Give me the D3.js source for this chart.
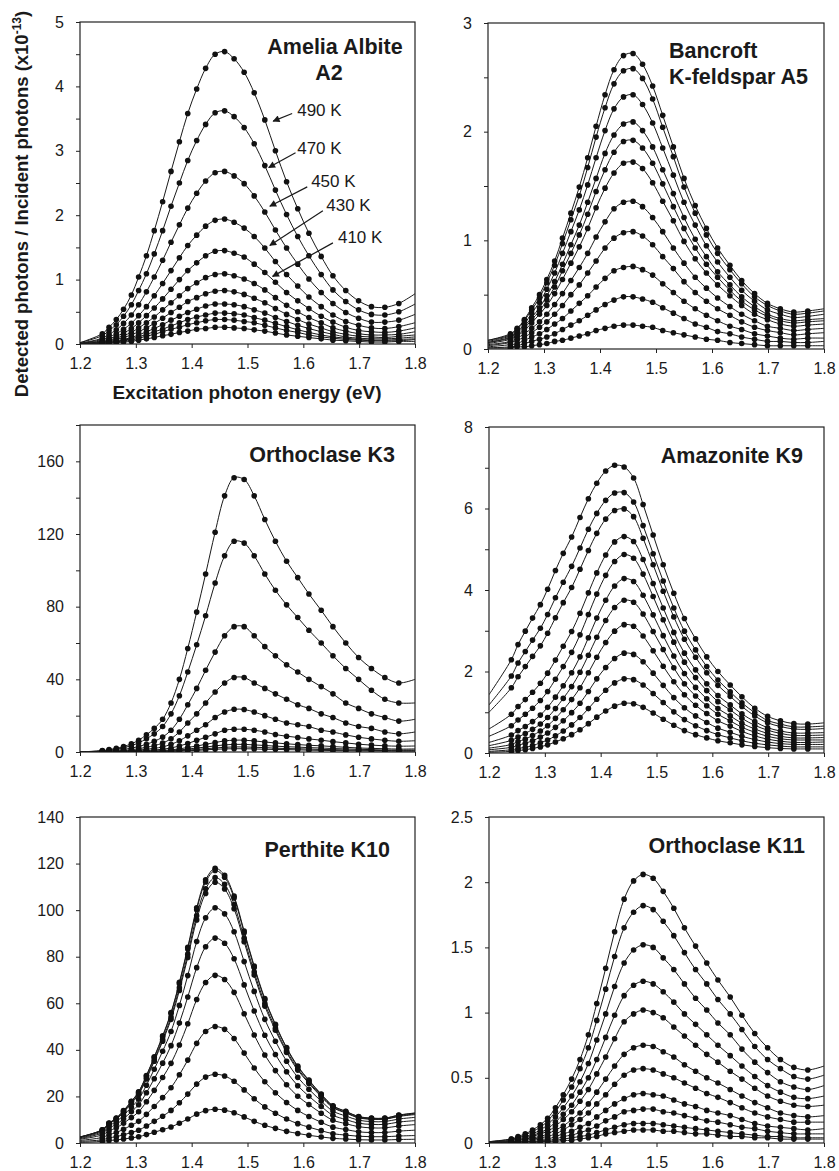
<!DOCTYPE html>
<html>
<head>
<meta charset="utf-8">
<title>Excitation spectra of feldspars</title>
<script src="https://cdn.jsdelivr.net/npm/d3@7"></script>
<style>
  body { margin: 0; background: #fff; }
  text { font-family: "Liberation Sans", Arial, sans-serif; fill: #1a1a1a; }
</style>
</head>
<body>
<svg id="chart" width="839" height="1171"></svg>
<script>
// measured excitation energies (eV), one per dot
var energies = [1.240, 1.252, 1.265, 1.278, 1.292, 1.305, 1.319, 1.333, 1.348, 1.363, 1.378, 1.393, 1.409, 1.425, 1.442, 1.459, 1.476, 1.494, 1.512, 1.531, 1.550, 1.570, 1.590, 1.610, 1.632, 1.653, 1.676, 1.699, 1.722, 1.746, 1.771];
// each curve: value at 1.2, then one value per energy, then value at 1.8

var ameliaA2 = [
  [0.02, 0.16, 0.26, 0.38, 0.54, 0.76, 1.04, 1.37, 1.76, 2.21, 2.68, 3.14, 3.58, 3.96, 4.28, 4.50, 4.54, 4.43, 4.22, 3.90, 3.48, 3.00, 2.52, 2.10, 1.72, 1.36, 1.06, 0.83, 0.67, 0.58, 0.57, 0.63, 0.78],
  [0.02, 0.13, 0.21, 0.30, 0.43, 0.61, 0.83, 1.09, 1.40, 1.76, 2.14, 2.50, 2.85, 3.16, 3.41, 3.59, 3.62, 3.53, 3.36, 3.11, 2.77, 2.39, 2.01, 1.67, 1.37, 1.08, 0.84, 0.66, 0.53, 0.46, 0.45, 0.50, 0.62],
  [0.01, 0.09, 0.15, 0.22, 0.32, 0.45, 0.61, 0.81, 1.04, 1.30, 1.58, 1.85, 2.11, 2.34, 2.53, 2.66, 2.68, 2.61, 2.49, 2.30, 2.05, 1.77, 1.49, 1.24, 1.01, 0.80, 0.63, 0.49, 0.40, 0.34, 0.34, 0.37, 0.46],
  [0.01, 0.07, 0.11, 0.16, 0.23, 0.32, 0.44, 0.58, 0.75, 0.94, 1.14, 1.34, 1.53, 1.69, 1.83, 1.92, 1.94, 1.89, 1.80, 1.67, 1.49, 1.28, 1.08, 0.90, 0.73, 0.58, 0.45, 0.35, 0.29, 0.25, 0.24, 0.27, 0.33],
  [0.01, 0.05, 0.08, 0.12, 0.17, 0.24, 0.33, 0.44, 0.56, 0.70, 0.85, 1.00, 1.14, 1.26, 1.37, 1.44, 1.45, 1.41, 1.35, 1.24, 1.11, 0.96, 0.80, 0.67, 0.55, 0.43, 0.34, 0.26, 0.21, 0.19, 0.18, 0.20, 0.25],
  [0.00, 0.04, 0.06, 0.09, 0.13, 0.18, 0.25, 0.33, 0.42, 0.53, 0.64, 0.75, 0.86, 0.95, 1.03, 1.08, 1.09, 1.06, 1.01, 0.94, 0.84, 0.72, 0.60, 0.50, 0.41, 0.33, 0.25, 0.20, 0.16, 0.14, 0.14, 0.15, 0.19],
  [0.00, 0.03, 0.05, 0.07, 0.10, 0.14, 0.19, 0.25, 0.32, 0.40, 0.49, 0.57, 0.66, 0.72, 0.78, 0.82, 0.83, 0.81, 0.77, 0.71, 0.64, 0.55, 0.46, 0.38, 0.31, 0.25, 0.19, 0.15, 0.12, 0.11, 0.10, 0.12, 0.14],
  [0.00, 0.02, 0.04, 0.05, 0.07, 0.10, 0.14, 0.19, 0.24, 0.30, 0.37, 0.43, 0.49, 0.54, 0.59, 0.62, 0.62, 0.61, 0.58, 0.53, 0.48, 0.41, 0.35, 0.29, 0.24, 0.19, 0.15, 0.11, 0.09, 0.08, 0.08, 0.09, 0.11],
  [0.00, 0.02, 0.03, 0.04, 0.06, 0.08, 0.11, 0.15, 0.19, 0.23, 0.28, 0.33, 0.38, 0.42, 0.45, 0.48, 0.48, 0.47, 0.45, 0.41, 0.37, 0.32, 0.27, 0.22, 0.18, 0.14, 0.11, 0.09, 0.07, 0.06, 0.06, 0.07, 0.08],
  [0.00, 0.01, 0.02, 0.03, 0.05, 0.06, 0.09, 0.12, 0.15, 0.19, 0.23, 0.26, 0.30, 0.33, 0.36, 0.38, 0.38, 0.37, 0.35, 0.33, 0.29, 0.25, 0.21, 0.18, 0.14, 0.11, 0.09, 0.07, 0.06, 0.05, 0.05, 0.05, 0.07],
  [0.00, 0.01, 0.01, 0.02, 0.03, 0.04, 0.06, 0.08, 0.10, 0.13, 0.15, 0.18, 0.20, 0.23, 0.24, 0.26, 0.26, 0.25, 0.24, 0.22, 0.20, 0.17, 0.14, 0.12, 0.10, 0.08, 0.06, 0.05, 0.04, 0.03, 0.03, 0.04, 0.04]
];

var bancroftA5 = [
  [0.08, 0.14, 0.19, 0.27, 0.38, 0.50, 0.64, 0.81, 1.02, 1.25, 1.49, 1.76, 2.05, 2.34, 2.57, 2.70, 2.72, 2.62, 2.42, 2.15, 1.86, 1.57, 1.32, 1.11, 0.93, 0.77, 0.63, 0.51, 0.42, 0.37, 0.34, 0.35, 0.37],
  [0.08, 0.13, 0.18, 0.26, 0.36, 0.47, 0.61, 0.77, 0.97, 1.19, 1.41, 1.67, 1.95, 2.22, 2.44, 2.56, 2.58, 2.49, 2.30, 2.04, 1.77, 1.49, 1.25, 1.05, 0.88, 0.73, 0.60, 0.48, 0.40, 0.35, 0.32, 0.33, 0.35],
  [0.07, 0.12, 0.16, 0.23, 0.33, 0.43, 0.55, 0.70, 0.88, 1.08, 1.28, 1.51, 1.76, 2.01, 2.21, 2.32, 2.34, 2.25, 2.08, 1.85, 1.60, 1.35, 1.14, 0.95, 0.80, 0.66, 0.54, 0.44, 0.36, 0.32, 0.29, 0.30, 0.32],
  [0.06, 0.11, 0.15, 0.21, 0.29, 0.38, 0.49, 0.62, 0.78, 0.96, 1.14, 1.35, 1.57, 1.80, 1.97, 2.07, 2.09, 2.01, 1.86, 1.65, 1.43, 1.21, 1.01, 0.85, 0.71, 0.59, 0.48, 0.39, 0.32, 0.28, 0.26, 0.27, 0.28],
  [0.06, 0.10, 0.13, 0.19, 0.27, 0.35, 0.45, 0.57, 0.72, 0.88, 1.05, 1.24, 1.45, 1.65, 1.81, 1.91, 1.92, 1.85, 1.71, 1.52, 1.31, 1.11, 0.93, 0.78, 0.66, 0.54, 0.44, 0.36, 0.30, 0.26, 0.24, 0.25, 0.26],
  [0.05, 0.09, 0.12, 0.17, 0.24, 0.32, 0.40, 0.51, 0.64, 0.79, 0.94, 1.11, 1.30, 1.48, 1.62, 1.71, 1.72, 1.66, 1.53, 1.36, 1.18, 0.99, 0.83, 0.70, 0.59, 0.49, 0.40, 0.32, 0.27, 0.23, 0.21, 0.22, 0.23],
  [0.04, 0.07, 0.10, 0.14, 0.19, 0.25, 0.32, 0.41, 0.51, 0.63, 0.75, 0.88, 1.03, 1.17, 1.29, 1.35, 1.36, 1.31, 1.21, 1.08, 0.93, 0.79, 0.66, 0.56, 0.47, 0.39, 0.32, 0.26, 0.21, 0.19, 0.17, 0.18, 0.19],
  [0.03, 0.06, 0.08, 0.11, 0.15, 0.20, 0.25, 0.32, 0.40, 0.50, 0.59, 0.70, 0.81, 0.93, 1.02, 1.07, 1.08, 1.04, 0.96, 0.85, 0.74, 0.62, 0.52, 0.44, 0.37, 0.31, 0.25, 0.20, 0.17, 0.15, 0.13, 0.14, 0.15],
  [0.02, 0.04, 0.05, 0.08, 0.11, 0.14, 0.18, 0.23, 0.28, 0.35, 0.42, 0.49, 0.57, 0.65, 0.72, 0.75, 0.76, 0.73, 0.68, 0.60, 0.52, 0.44, 0.37, 0.31, 0.26, 0.21, 0.18, 0.14, 0.12, 0.10, 0.09, 0.10, 0.10],
  [0.01, 0.02, 0.03, 0.05, 0.07, 0.09, 0.11, 0.14, 0.18, 0.22, 0.26, 0.31, 0.36, 0.41, 0.45, 0.48, 0.48, 0.46, 0.43, 0.38, 0.33, 0.28, 0.23, 0.20, 0.16, 0.14, 0.11, 0.09, 0.07, 0.07, 0.06, 0.06, 0.07],
  [0.01, 0.01, 0.02, 0.02, 0.03, 0.04, 0.05, 0.07, 0.08, 0.10, 0.12, 0.14, 0.17, 0.19, 0.21, 0.22, 0.22, 0.21, 0.20, 0.17, 0.15, 0.13, 0.11, 0.09, 0.08, 0.06, 0.05, 0.04, 0.03, 0.03, 0.03, 0.03, 0.03]
];

var orthoclaseK3 = [
  [0, 0.8, 1.3, 2, 3, 4.5, 6.5, 9.5, 13, 18, 27, 40, 57, 77, 98, 121, 141, 151, 150, 141, 128, 116, 105, 96, 87, 78, 69, 60, 52, 46, 41, 38, 40],
  [0, 0.6, 1.0, 1.5, 2.3, 3.5, 5.0, 7.3, 10, 14, 21, 31, 44, 59, 75, 93, 108, 116, 115, 108, 98, 89, 81, 74, 67, 60, 53, 46, 40, 34, 29, 27, 27],
  [0, 0.4, 0.6, 0.9, 1.4, 2.1, 3.0, 4.3, 5.9, 8.2, 12, 18, 26, 35, 45, 55, 64, 69, 69, 64, 58, 53, 48, 44, 40, 36, 32, 27, 24, 21, 19, 17, 18],
  [0, 0.2, 0.4, 0.5, 0.8, 1.2, 1.8, 2.6, 3.5, 4.9, 7.3, 11, 16, 21, 27, 33, 38, 41, 41, 38, 35, 32, 29, 26, 24, 21, 19, 16, 14, 13, 11, 10, 11],
  [0, 0.1, 0.2, 0.3, 0.5, 0.7, 1.0, 1.5, 2.0, 2.8, 4.2, 6.2, 8.9, 12, 15, 19, 22, 23.5, 23.4, 22, 20, 18, 16, 15, 14, 12, 11, 9.4, 8.1, 7.2, 6.4, 5.9, 6.2],
  [0, 0.1, 0.1, 0.2, 0.2, 0.4, 0.5, 0.8, 1.1, 1.5, 2.2, 3.3, 4.7, 6.4, 8.1, 10, 12, 12.5, 12.5, 12, 11, 9.6, 8.7, 8.0, 7.2, 6.5, 5.7, 5.0, 4.3, 3.8, 3.4, 3.2, 3.3],
  [0, 0, 0.1, 0.1, 0.1, 0.2, 0.3, 0.4, 0.6, 0.8, 1.2, 1.7, 2.5, 3.3, 4.2, 5.2, 6.1, 6.5, 6.5, 6.1, 5.5, 5.0, 4.5, 4.1, 3.7, 3.4, 3.0, 2.6, 2.2, 2.0, 1.8, 1.6, 1.7],
  [0, 0, 0, 0.1, 0.1, 0.1, 0.2, 0.3, 0.4, 0.5, 0.8, 1.1, 1.6, 2.2, 2.7, 3.4, 3.9, 4.2, 4.2, 3.9, 3.6, 3.2, 2.9, 2.7, 2.4, 2.2, 1.9, 1.7, 1.5, 1.3, 1.1, 1.1, 1.1],
  [0, 0, 0, 0, 0.1, 0.1, 0.1, 0.2, 0.2, 0.3, 0.5, 0.7, 1.1, 1.4, 1.8, 2.2, 2.6, 2.8, 2.8, 2.6, 2.4, 2.1, 1.9, 1.8, 1.6, 1.4, 1.3, 1.1, 1.0, 0.9, 0.8, 0.7, 0.7],
  [0, 0, 0, 0, 0, 0.1, 0.1, 0.1, 0.2, 0.2, 0.3, 0.5, 0.7, 0.9, 1.2, 1.5, 1.7, 1.8, 1.8, 1.7, 1.5, 1.4, 1.3, 1.2, 1.0, 0.9, 0.8, 0.7, 0.6, 0.6, 0.5, 0.5, 0.5]
];

var amazoniteK9 = [
  [1.43, 2.29, 2.66, 2.99, 3.31, 3.64, 4.02, 4.48, 4.90, 5.30, 5.78, 6.24, 6.62, 6.92, 7.06, 7.02, 6.75, 6.10, 5.35, 4.62, 3.92, 3.30, 2.80, 2.36, 2.00, 1.67, 1.38, 1.10, 0.90, 0.79, 0.72, 0.71, 0.74],
  [1.18, 1.89, 2.21, 2.49, 2.77, 3.06, 3.40, 3.81, 4.19, 4.58, 5.03, 5.49, 5.88, 6.20, 6.38, 6.39, 6.16, 5.58, 4.89, 4.22, 3.56, 2.99, 2.53, 2.12, 1.79, 1.50, 1.23, 0.99, 0.80, 0.71, 0.64, 0.64, 0.66],
  [1.00, 1.60, 1.87, 2.12, 2.37, 2.63, 2.94, 3.32, 3.69, 4.06, 4.51, 4.97, 5.39, 5.74, 5.95, 5.99, 5.80, 5.27, 4.62, 3.97, 3.34, 2.79, 2.35, 1.97, 1.66, 1.39, 1.14, 0.91, 0.74, 0.65, 0.59, 0.58, 0.60],
  [0.59, 0.95, 1.14, 1.31, 1.49, 1.71, 1.96, 2.28, 2.62, 2.98, 3.43, 3.93, 4.42, 4.86, 5.18, 5.31, 5.19, 4.75, 4.16, 3.56, 2.96, 2.45, 2.04, 1.70, 1.41, 1.18, 0.96, 0.77, 0.62, 0.54, 0.49, 0.49, 0.50],
  [0.41, 0.67, 0.81, 0.95, 1.10, 1.29, 1.51, 1.81, 2.12, 2.47, 2.90, 3.40, 3.90, 4.36, 4.70, 4.87, 4.78, 4.39, 3.84, 3.27, 2.72, 2.23, 1.85, 1.53, 1.26, 1.06, 0.85, 0.68, 0.56, 0.48, 0.43, 0.43, 0.44],
  [0.26, 0.44, 0.55, 0.65, 0.77, 0.93, 1.12, 1.37, 1.65, 1.97, 2.36, 2.83, 3.31, 3.75, 4.10, 4.28, 4.21, 3.87, 3.39, 2.88, 2.38, 1.95, 1.61, 1.33, 1.09, 0.91, 0.73, 0.59, 0.48, 0.41, 0.37, 0.37, 0.38],
  [0.18, 0.31, 0.39, 0.48, 0.58, 0.71, 0.87, 1.09, 1.34, 1.63, 1.98, 2.40, 2.84, 3.25, 3.57, 3.75, 3.70, 3.41, 2.98, 2.54, 2.09, 1.70, 1.40, 1.16, 0.95, 0.79, 0.63, 0.51, 0.41, 0.35, 0.32, 0.32, 0.32],
  [0.12, 0.21, 0.28, 0.34, 0.43, 0.54, 0.67, 0.85, 1.06, 1.31, 1.60, 1.97, 2.35, 2.71, 2.99, 3.15, 3.11, 2.87, 2.51, 2.13, 1.75, 1.43, 1.17, 0.97, 0.79, 0.66, 0.53, 0.42, 0.34, 0.29, 0.26, 0.26, 0.27],
  [0.08, 0.14, 0.19, 0.24, 0.30, 0.39, 0.49, 0.63, 0.79, 0.99, 1.22, 1.51, 1.82, 2.10, 2.32, 2.45, 2.42, 2.24, 1.96, 1.66, 1.36, 1.11, 0.91, 0.75, 0.61, 0.51, 0.41, 0.33, 0.27, 0.23, 0.21, 0.21, 0.21],
  [0.04, 0.08, 0.11, 0.14, 0.18, 0.25, 0.32, 0.42, 0.54, 0.69, 0.87, 1.09, 1.32, 1.54, 1.72, 1.82, 1.80, 1.67, 1.46, 1.24, 1.01, 0.82, 0.67, 0.55, 0.45, 0.37, 0.30, 0.24, 0.20, 0.17, 0.15, 0.15, 0.15],
  [0.02, 0.04, 0.06, 0.08, 0.11, 0.15, 0.20, 0.27, 0.35, 0.45, 0.57, 0.72, 0.88, 1.03, 1.15, 1.22, 1.21, 1.12, 0.98, 0.83, 0.68, 0.55, 0.45, 0.37, 0.30, 0.25, 0.20, 0.16, 0.13, 0.11, 0.10, 0.10, 0.10]
];

var perthiteK10 = [
  [2.6, 5.7, 8.6, 10.7, 13.9, 17.9, 22, 29, 37, 46, 56, 69, 84, 101, 113, 118, 115, 106, 91, 76, 62, 51, 41, 33, 27, 21, 16, 13.6, 11.4, 10.7, 10.7, 12, 12.9],
  [2.6, 5.7, 8.5, 10.6, 13.8, 17.8, 21.8, 28.8, 36.7, 45.6, 55.6, 68.4, 83.3, 100.2, 112.1, 117, 114.1, 105.2, 90.3, 75.4, 61.5, 50.6, 40.7, 32.7, 26.8, 20.8, 15.9, 13.5, 11.3, 10.6, 10.6, 11.9, 12.8],
  [2.5, 5.5, 8.3, 10.3, 13.4, 17.3, 21.3, 28.0, 35.7, 44.4, 54.1, 66.7, 81.1, 97.6, 109.2, 114, 111.1, 102.4, 87.9, 73.4, 59.9, 49.3, 39.6, 31.9, 26.1, 20.3, 15.5, 13.1, 11.0, 10.3, 10.3, 11.6, 12.5],
  [2.5, 5.4, 8.2, 10.2, 13.2, 17.0, 20.9, 27.5, 35.1, 43.7, 53.1, 65.5, 79.7, 95.8, 107.2, 112, 109.1, 100.6, 86.4, 72.1, 58.8, 48.4, 38.9, 31.3, 25.6, 19.9, 15.2, 12.9, 10.8, 10.2, 10.2, 11.4, 12.2],
  [2.2, 4.9, 7.4, 9.2, 11.9, 15.3, 18.8, 24.8, 31.7, 39.4, 47.9, 59.1, 71.9, 86.5, 96.7, 101, 98.4, 90.7, 77.9, 65.1, 53.1, 43.7, 35.1, 28.2, 23.1, 18.0, 13.7, 11.6, 9.8, 9.2, 9.2, 10.3, 11.0],
  [1.9, 4.3, 6.4, 8.0, 10.4, 13.4, 16.4, 21.6, 27.6, 34.3, 41.8, 51.5, 62.7, 75.3, 84.3, 88, 85.8, 79.1, 67.9, 56.7, 46.3, 38.0, 30.6, 24.6, 20.1, 15.7, 11.9, 10.1, 8.5, 8.0, 8.0, 9.0, 9.6],
  [1.6, 3.5, 5.2, 6.5, 8.5, 10.9, 13.4, 17.7, 22.6, 28.1, 34.2, 42.1, 51.2, 61.6, 68.9, 72, 70.2, 64.7, 55.5, 46.4, 37.8, 31.1, 25.0, 20.1, 16.5, 12.8, 9.8, 8.3, 7.0, 6.5, 6.5, 7.3, 7.9],
  [1.1, 2.4, 3.6, 4.5, 5.9, 7.6, 9.3, 12.3, 15.7, 19.5, 23.7, 29.3, 35.6, 42.8, 47.9, 50, 48.8, 44.9, 38.6, 32.2, 26.3, 21.6, 17.4, 14.0, 11.4, 8.9, 6.8, 5.8, 4.8, 4.5, 4.5, 5.1, 5.5],
  [0.7, 1.4, 2.2, 2.7, 3.5, 4.5, 5.5, 7.3, 9.3, 11.5, 14.0, 17.3, 21.0, 25.3, 28.3, 29.5, 28.8, 26.5, 22.8, 19.0, 15.5, 12.8, 10.3, 8.3, 6.8, 5.3, 4.0, 3.4, 2.9, 2.7, 2.7, 3.0, 3.2],
  [0.3, 0.7, 1.1, 1.3, 1.7, 2.2, 2.7, 3.6, 4.6, 5.7, 6.9, 8.5, 10.3, 12.4, 13.9, 14.5, 14.1, 13.0, 11.2, 9.3, 7.6, 6.3, 5.0, 4.1, 3.3, 2.6, 2.0, 1.7, 1.4, 1.3, 1.3, 1.5, 1.6]
];

var orthoclaseK11 = [
  [0.01, 0.03, 0.05, 0.07, 0.10, 0.14, 0.19, 0.27, 0.37, 0.49, 0.64, 0.83, 1.07, 1.34, 1.62, 1.87, 2.01, 2.06, 2.03, 1.93, 1.80, 1.65, 1.51, 1.38, 1.25, 1.12, 0.98, 0.84, 0.73, 0.64, 0.58, 0.56, 0.59],
  [0.01, 0.03, 0.04, 0.06, 0.09, 0.12, 0.17, 0.24, 0.33, 0.43, 0.57, 0.73, 0.94, 1.18, 1.43, 1.65, 1.77, 1.82, 1.79, 1.70, 1.59, 1.46, 1.33, 1.22, 1.10, 0.99, 0.87, 0.74, 0.64, 0.57, 0.51, 0.49, 0.52],
  [0.01, 0.02, 0.04, 0.05, 0.07, 0.10, 0.14, 0.20, 0.27, 0.36, 0.47, 0.61, 0.79, 0.99, 1.20, 1.38, 1.48, 1.52, 1.50, 1.42, 1.33, 1.22, 1.11, 1.02, 0.92, 0.83, 0.72, 0.62, 0.54, 0.47, 0.43, 0.41, 0.44],
  [0.01, 0.02, 0.03, 0.04, 0.06, 0.08, 0.11, 0.16, 0.22, 0.29, 0.39, 0.50, 0.64, 0.81, 0.98, 1.13, 1.21, 1.24, 1.22, 1.16, 1.08, 0.99, 0.91, 0.83, 0.75, 0.67, 0.59, 0.51, 0.44, 0.39, 0.35, 0.34, 0.36],
  [0.00, 0.01, 0.02, 0.03, 0.05, 0.07, 0.09, 0.13, 0.18, 0.24, 0.32, 0.41, 0.53, 0.66, 0.80, 0.93, 0.99, 1.02, 1.00, 0.96, 0.89, 0.82, 0.75, 0.68, 0.62, 0.55, 0.49, 0.42, 0.36, 0.32, 0.29, 0.28, 0.29],
  [0.00, 0.01, 0.02, 0.03, 0.04, 0.05, 0.07, 0.10, 0.13, 0.18, 0.23, 0.30, 0.39, 0.49, 0.59, 0.68, 0.73, 0.75, 0.74, 0.70, 0.66, 0.60, 0.55, 0.50, 0.46, 0.41, 0.36, 0.31, 0.27, 0.23, 0.21, 0.20, 0.21],
  [0.00, 0.01, 0.01, 0.02, 0.03, 0.04, 0.05, 0.07, 0.10, 0.14, 0.18, 0.23, 0.30, 0.37, 0.45, 0.52, 0.56, 0.57, 0.56, 0.53, 0.50, 0.46, 0.42, 0.38, 0.35, 0.31, 0.27, 0.23, 0.20, 0.18, 0.16, 0.16, 0.16],
  [0.00, 0.01, 0.01, 0.01, 0.02, 0.03, 0.03, 0.05, 0.07, 0.09, 0.12, 0.15, 0.20, 0.25, 0.30, 0.34, 0.37, 0.38, 0.37, 0.36, 0.33, 0.30, 0.28, 0.25, 0.23, 0.21, 0.18, 0.15, 0.13, 0.12, 0.11, 0.10, 0.11],
  [0.00, 0.00, 0.01, 0.01, 0.01, 0.02, 0.02, 0.03, 0.05, 0.06, 0.08, 0.10, 0.13, 0.17, 0.20, 0.24, 0.25, 0.26, 0.26, 0.24, 0.23, 0.21, 0.19, 0.17, 0.16, 0.14, 0.12, 0.11, 0.09, 0.08, 0.07, 0.07, 0.07],
  [0.00, 0.00, 0.00, 0.01, 0.01, 0.01, 0.01, 0.02, 0.03, 0.04, 0.05, 0.06, 0.08, 0.10, 0.12, 0.14, 0.15, 0.15, 0.15, 0.14, 0.13, 0.12, 0.11, 0.10, 0.09, 0.08, 0.07, 0.06, 0.05, 0.05, 0.04, 0.04, 0.04],
  [0.00, 0.00, 0.00, 0.00, 0.00, 0.01, 0.01, 0.01, 0.02, 0.02, 0.03, 0.04, 0.05, 0.07, 0.08, 0.09, 0.10, 0.10, 0.10, 0.09, 0.09, 0.08, 0.07, 0.07, 0.06, 0.05, 0.05, 0.04, 0.04, 0.03, 0.03, 0.03, 0.03]
];

// axis ticks
var xTicks = [1.2, 1.3, 1.4, 1.5, 1.6, 1.7, 1.8];
var yTicksA2 = [0, 1, 2, 3, 4, 5],            yMinorA2 = [0.5, 1.5, 2.5, 3.5, 4.5];
var yTicksA5 = [0, 1, 2, 3],                  yMinorA5 = [0.5, 1.5, 2.5];
var yTicksK3 = [0, 40, 80, 120, 160],         yMinorK3 = [20, 60, 100, 140, 180];
var yTicksK9 = [0, 2, 4, 6, 8],               yMinorK9 = [1, 3, 5, 7];
var yTicksK10 = [0, 20, 40, 60, 80, 100, 120, 140], yMinorK10 = [];
var yTicksK11 = [0, 0.5, 1, 1.5, 2, 2.5],     yMinorK11 = [];

// temperature labels in the Amelia panel (data units)
var a2Labels = ["490 K", "470 K", "450 K", "430 K", "410 K"];
var a2LabelAt = [[1.589, 3.54], [1.589, 2.95], [1.614, 2.44], [1.641, 2.07], [1.662, 1.57]];
var a2ArrowFrom = [[1.580, 3.58], [1.586, 2.97], [1.607, 2.44], [1.635, 2.07], [1.653, 1.57]];
var a2ArrowTo = [[1.546, 3.46], [1.538, 2.74], [1.540, 2.14], [1.540, 1.53], [1.545, 1.05]];

var xAll = [1.2].concat(energies, [1.8]);

var panels = [
  { id: "a2", data: ameliaA2, yMax: 5, ticks: yTicksA2, minor: yMinorA2, box: [80, 22, 415, 344],
    title: [{ t: "Amelia Albite", x: 335, y: 54, a: "middle" }, { t: "A2", x: 329, y: 80, a: "middle" }] },
  { id: "a5", data: bancroftA5, yMax: 3, ticks: yTicksA5, minor: yMinorA5, box: [488, 23, 824, 349],
    title: [{ t: "Bancroft", x: 669, y: 58, a: "start" }, { t: "K-feldspar A5", x: 669, y: 84, a: "start" }] },
  { id: "k3", data: orthoclaseK3, yMax: 180, ticks: yTicksK3, minor: yMinorK3, box: [80, 425, 415, 752],
    title: [{ t: "Orthoclase K3", x: 395, y: 462, a: "end" }] },
  { id: "k9", data: amazoniteK9, yMax: 8, ticks: yTicksK9, minor: yMinorK9, box: [489, 427, 824, 753],
    title: [{ t: "Amazonite K9", x: 803, y: 463, a: "end" }] },
  { id: "k10", data: perthiteK10, yMax: 140, ticks: yTicksK10, minor: yMinorK10, box: [80, 817, 415, 1143],
    title: [{ t: "Perthite K10", x: 390, y: 857, a: "end" }] },
  { id: "k11", data: orthoclaseK11, yMax: 2.5, ticks: yTicksK11, minor: yMinorK11, box: [489, 817, 824, 1143],
    title: [{ t: "Orthoclase K11", x: 805, y: 853, a: "end" }] }
];

var svg = d3.select("#chart");
var defs = svg.append("defs");
defs.append("marker")
  .attr("id", "arrowhead")
  .attr("markerUnits", "userSpaceOnUse")
  .attr("viewBox", "0 0 10 10")
  .attr("refX", 9).attr("refY", 5)
  .attr("markerWidth", 9).attr("markerHeight", 7)
  .attr("orient", "auto")
  .append("path")
  .attr("d", "M0,0L10,5L0,10Z")
  .attr("fill", "#1a1a1a");

var scales = {};

panels.forEach(function (p) {
  var b = p.box;
  var x = d3.scaleLinear().domain([1.2, 1.8]).range([b[0], b[2]]);
  var y = d3.scaleLinear().domain([0, p.yMax]).range([b[3], b[1]]);
  scales[p.id] = { x: x, y: y };

  var g = svg.append("g").attr("class", "panel");

  defs.append("clipPath").attr("id", "clip-" + p.id)
    .append("rect")
    .attr("x", b[0]).attr("y", b[1])
    .attr("width", b[2] - b[0]).attr("height", b[3] - b[1]);

  // x axis
  g.append("g")
    .attr("transform", "translate(0," + b[3] + ")")
    .call(d3.axisBottom(x).tickValues(xTicks).tickFormat(d3.format(".1f")).tickSize(4).tickPadding(10))
    .call(function (a) {
      a.select(".domain").remove();
      a.selectAll("line").attr("stroke", "#222");
      a.selectAll("text").attr("font-size", 16).attr("fill", "#222");
    });

  // y axis
  g.append("g")
    .attr("transform", "translate(" + b[0] + ",0)")
    .call(d3.axisLeft(y).tickValues(p.ticks).tickFormat(function (d) { return String(d); }).tickSize(4).tickPadding(12))
    .call(function (a) {
      a.select(".domain").remove();
      a.selectAll("line").attr("stroke", "#222");
      a.selectAll("text").attr("font-size", 16).attr("fill", "#222");
    });

  if (p.minor.length) {
    g.append("g")
      .attr("transform", "translate(" + b[0] + ",0)")
      .call(d3.axisLeft(y).tickValues(p.minor).tickFormat("").tickSize(4))
      .call(function (a) {
        a.select(".domain").remove();
        a.selectAll("line").attr("stroke", "#222");
      });
  }

  // frame
  g.append("rect")
    .attr("x", b[0]).attr("y", b[1])
    .attr("width", b[2] - b[0]).attr("height", b[3] - b[1])
    .attr("fill", "none").attr("stroke", "#222").attr("stroke-width", 1.2);

  var line = d3.line()
    .x(function (d, i) { return x(xAll[i]); })
    .y(function (d) { return y(d); })
    .curve(d3.curveCatmullRom.alpha(0.5));

  var plot = g.append("g").attr("clip-path", "url(#clip-" + p.id + ")");

  plot.selectAll("path.curve")
    .data(p.data)
    .join("path")
    .attr("class", "curve")
    .attr("d", line)
    .attr("fill", "none")
    .attr("stroke", "#1a1a1a")
    .attr("stroke-width", 1);

  p.data.forEach(function (row) {
    plot.selectAll(null)
      .data(row.slice(1, row.length - 1))
      .join("circle")
      .attr("cx", function (d, i) { return x(energies[i]); })
      .attr("cy", function (d) { return y(d); })
      .attr("r", 2.8)
      .attr("fill", "#111");
  });

  p.title.forEach(function (t) {
    g.append("text")
      .attr("x", t.x).attr("y", t.y)
      .attr("text-anchor", t.a)
      .attr("font-size", 21.5)
      .attr("font-weight", "bold")
      .text(t.t);
  });
});

// temperature labels with arrows
var sa = scales.a2;
svg.append("g").selectAll("line")
  .data(a2ArrowFrom)
  .join("line")
  .attr("x1", function (d) { return sa.x(d[0]); })
  .attr("y1", function (d) { return sa.y(d[1]); })
  .attr("x2", function (d, i) { return sa.x(a2ArrowTo[i][0]); })
  .attr("y2", function (d, i) { return sa.y(a2ArrowTo[i][1]); })
  .attr("stroke", "#1a1a1a")
  .attr("stroke-width", 1.2)
  .attr("marker-end", "url(#arrowhead)");

svg.append("g").selectAll("text")
  .data(a2Labels)
  .join("text")
  .attr("x", function (d, i) { return sa.x(a2LabelAt[i][0]); })
  .attr("y", function (d, i) { return sa.y(a2LabelAt[i][1]); })
  .attr("font-size", 17)
  .text(function (d) { return d; });

// shared axis titles
svg.append("text")
  .attr("x", 247).attr("y", 399)
  .attr("text-anchor", "middle")
  .attr("font-size", 19)
  .attr("font-weight", "bold")
  .text("Excitation photon energy (eV)");

var yt = svg.append("text")
  .attr("transform", "translate(28,204) rotate(-90)")
  .attr("text-anchor", "middle")
  .attr("font-size", 18.5)
  .attr("font-weight", "bold");
yt.append("tspan").text("Detected photons / Incident photons (x10");
yt.append("tspan").attr("dy", -7).attr("font-size", 12).text("-13");
yt.append("tspan").attr("dy", 7).text(")");
</script>
</body>
</html>
